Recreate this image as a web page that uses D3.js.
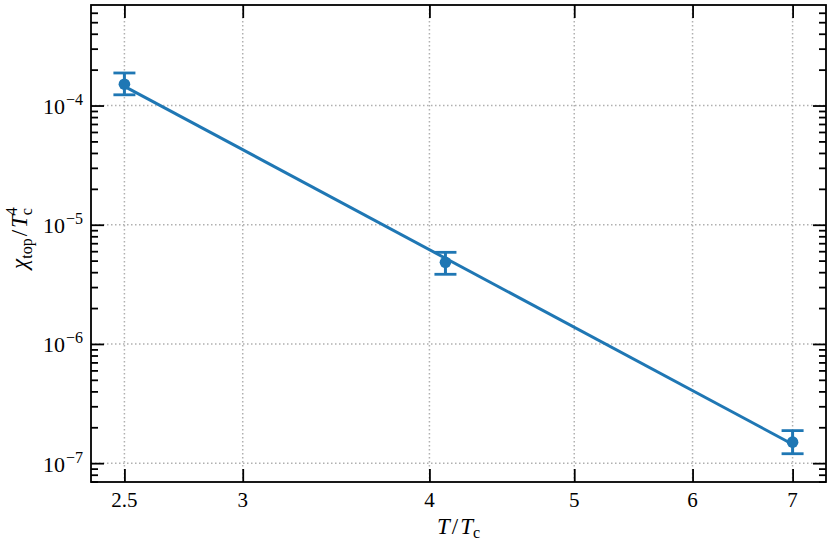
<!DOCTYPE html>
<html><head><meta charset="utf-8">
<script src="https://cdn.jsdelivr.net/npm/d3@7"></script>
<style>
html,body{margin:0;padding:0;background:#fff;}
svg{display:block;}
</style></head>
<body>
<svg id="chart" width="831" height="548" font-family="Liberation Serif"></svg>
<script>
// ---- data ----
const temps = [2.5, 4.1, 7];                 // T/Tc
const chi = [1.51e-4, 4.84e-6, 1.50e-7];      // chi_top / Tc^4
const chiLow = [1.23e-4, 3.84e-6, 1.20e-7];   // lower error bound
const chiHigh = [1.875e-4, 5.87e-6, 1.875e-7];// upper error bound
const fitT = [2.5, 7];
const fitChi = [1.449e-4, 1.442e-7];
const xTicks = [2.5, 3, 4, 5, 6, 7];
const xTickLabels = ["2.5", "3", "4", "5", "6", "7"];
const yMajor = [1e-7, 1e-6, 1e-5, 1e-4];
const yMajorExp = ["−7", "−6", "−5", "−4"];

const FONT = "Liberation Serif";
const svg = d3.select("#chart");
const L = 91, R = 826, T = 5, B = 482;
const blue = "#1f77b4";

const pad = 0.02236;
const x = d3.scaleLog().domain([2.5 / Math.pow(10, pad), 7 * Math.pow(10, pad)]).range([L, R]);
const y = d3.scaleLog().domain([6.95e-8, 6.97e-4]).range([B, T]);

// minor y ticks
const yMinor = [];
for (let e = -8; e <= -3; e++) {
  for (let m = 2; m <= 9; m++) {
    const v = m * Math.pow(10, e);
    if (v >= y.domain()[0] && v <= y.domain()[1]) yMinor.push(v);
  }
}

// grid
const grid = svg.append("g");
grid.selectAll("line.gx").data(xTicks).join("line")
  .attr("x1", d => x(d)).attr("x2", d => x(d)).attr("y1", T).attr("y2", B)
  .attr("stroke", "#b0b0b0").attr("stroke-width", 1.5).attr("stroke-dasharray", "1.5,2.5");
grid.selectAll("line.gy").data(yMajor).join("line")
  .attr("y1", d => y(d)).attr("y2", d => y(d)).attr("x1", L).attr("x2", R)
  .attr("stroke", "#b0b0b0").attr("stroke-width", 1.5).attr("stroke-dasharray", "1.5,2.5");

// fit line
const line = d3.line().x(d => x(d[0])).y(d => y(d[1]));
svg.append("path").datum(fitT.map((t, i) => [t, fitChi[i]]))
  .attr("d", line).attr("fill", "none").attr("stroke", blue).attr("stroke-width", 3);

// error bars
const eb = svg.append("g");
const capW = 11;
temps.forEach((t, i) => {
  const cx = x(t);
  eb.append("line").attr("x1", cx).attr("x2", cx).attr("y1", y(chiLow[i])).attr("y2", y(chiHigh[i]))
    .attr("stroke", blue).attr("stroke-width", 3);
  [chiLow[i], chiHigh[i]].forEach(v => {
    eb.append("line").attr("x1", cx - capW).attr("x2", cx + capW).attr("y1", y(v)).attr("y2", y(v))
      .attr("stroke", blue).attr("stroke-width", 2.8);
  });
});
svg.append("g").selectAll("circle").data(temps).join("circle")
  .attr("cx", d => x(d)).attr("cy", (d, i) => y(chi[i])).attr("r", 5.8).attr("fill", blue);

// axes (inward ticks)
function styleAxis(g) {
  g.select(".domain").remove();
  g.selectAll(".tick line").attr("stroke", "#000").attr("stroke-width", 1.8);
  g.selectAll(".tick text").remove();
}
svg.append("g").attr("transform", `translate(0,${B})`)
  .call(d3.axisBottom(x).tickValues(xTicks).tickSize(-13).tickFormat("")).call(styleAxis);
svg.append("g").attr("transform", `translate(0,${T})`)
  .call(d3.axisTop(x).tickValues(xTicks).tickSize(-13).tickFormat("")).call(styleAxis);
svg.append("g").attr("transform", `translate(${L},0)`)
  .call(d3.axisLeft(y).tickValues(yMajor).tickSize(-13).tickFormat("")).call(styleAxis);
svg.append("g").attr("transform", `translate(${L},0)`)
  .call(d3.axisLeft(y).tickValues(yMinor).tickSize(-7).tickFormat("")).call(styleAxis);
svg.append("g").attr("transform", `translate(${R},0)`)
  .call(d3.axisRight(y).tickValues(yMajor).tickSize(-13).tickFormat("")).call(styleAxis);
svg.append("g").attr("transform", `translate(${R},0)`)
  .call(d3.axisRight(y).tickValues(yMinor).tickSize(-7).tickFormat("")).call(styleAxis);

// spines
svg.append("rect").attr("x", L).attr("y", T).attr("width", R - L).attr("height", B - T)
  .attr("fill", "none").attr("stroke", "#000").attr("stroke-width", 1.8);

// tick labels
svg.append("g").selectAll("text").data(xTicks).join("text")
  .attr("font-family", FONT).attr("fill", "#000")
  .attr("x", d => x(d)).attr("y", 507).attr("text-anchor", "middle")
  .attr("font-size", 21).text((d, i) => xTickLabels[i]);

const yl = svg.append("g").selectAll("text").data(yMajor).join("text")
  .attr("font-family", FONT).attr("fill", "#000")
  .attr("x", 83).attr("y", d => y(d) + 8.5).attr("text-anchor", "end").attr("font-size", 22);
yl.append("tspan").text("10");
yl.append("tspan").attr("dx", 1).attr("dy", -9).attr("font-size", 16).text((d, i) => yMajorExp[i]);

// axis labels
const xl = svg.append("text").attr("font-family", FONT).attr("fill", "#000")
  .attr("x", (L + R) / 2).attr("y", 534).attr("text-anchor", "middle").attr("font-size", 23);
xl.append("tspan").attr("font-style", "italic").text("T");
xl.append("tspan").attr("dx", 2).text("/");
xl.append("tspan").attr("dx", 2).attr("font-style", "italic").text("T");
xl.append("tspan").attr("font-size", 16).attr("dy", 4).text("c");

const ylab = svg.append("text").attr("font-family", FONT).attr("fill", "#000")
  .attr("transform", `translate(27,238) rotate(-90)`)
  .attr("text-anchor", "middle").attr("font-size", 23);
ylab.append("tspan").attr("font-style", "italic").text("χ");
ylab.append("tspan").attr("font-size", 16).attr("dy", 5).text("top");
ylab.append("tspan").attr("dx", 2).attr("dy", -5).text("/");
ylab.append("tspan").attr("dx", 2).attr("font-style", "italic").text("T");
ylab.append("tspan").attr("font-size", 16).attr("dy", -10).text("4");
ylab.append("tspan").attr("font-size", 16).attr("dx", -8).attr("dy", 15).text("c");
</script>
</body></html>
